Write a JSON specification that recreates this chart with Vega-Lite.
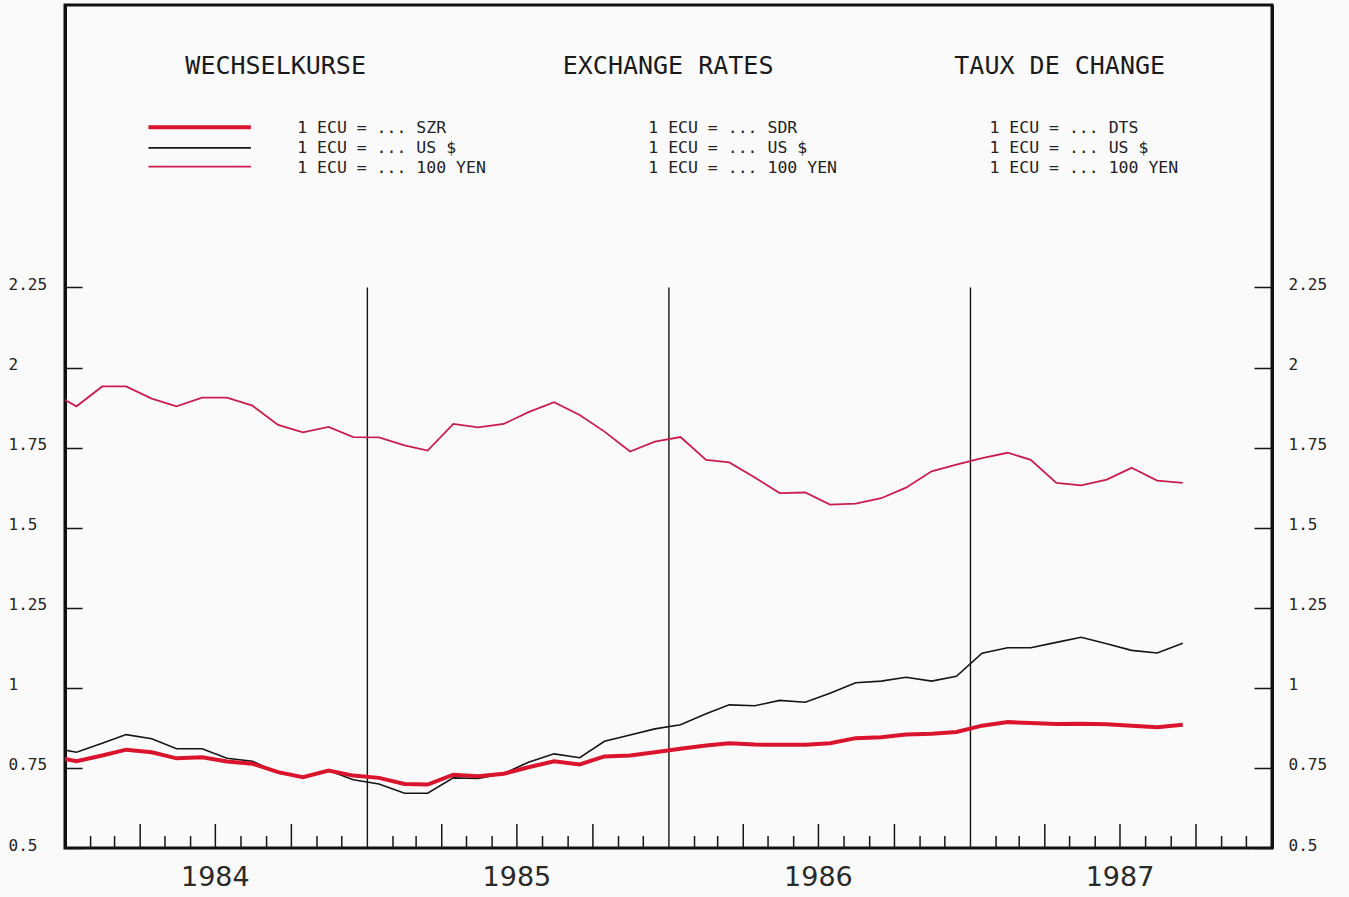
{
  "$schema": "https://vega.github.io/schema/vega-lite/v6.json",
  "width": 1207,
  "height": 843,
  "autosize": {"type": "none"},
  "padding": {"left": 65, "top": 5, "right": 77, "bottom": 49},
  "background": "#fafafa",
  "config": {"view": {"stroke": "#111111", "strokeWidth": 3}, "axis": {"grid": false}},
  "resolve": {"axis": {"y": "independent"}},
  "datasets": {
    "rates": [
      {"month": "1983-12-15T00:00:00", "SZR": 0.786, "USD": 0.814, "YEN": 1.922},
      {"month": "1984-01-15T00:00:00", "SZR": 0.771, "USD": 0.799, "YEN": 1.879},
      {"month": "1984-02-15T00:00:00", "SZR": 0.789, "USD": 0.827, "YEN": 1.941},
      {"month": "1984-03-15T00:00:00", "SZR": 0.807, "USD": 0.854, "YEN": 1.941},
      {"month": "1984-04-15T00:00:00", "SZR": 0.799, "USD": 0.841, "YEN": 1.903},
      {"month": "1984-05-15T00:00:00", "SZR": 0.780, "USD": 0.810, "YEN": 1.879},
      {"month": "1984-06-15T00:00:00", "SZR": 0.783, "USD": 0.810, "YEN": 1.906},
      {"month": "1984-07-15T00:00:00", "SZR": 0.770, "USD": 0.780, "YEN": 1.906},
      {"month": "1984-08-15T00:00:00", "SZR": 0.763, "USD": 0.771, "YEN": 1.881},
      {"month": "1984-09-15T00:00:00", "SZR": 0.737, "USD": 0.734, "YEN": 1.821},
      {"month": "1984-10-15T00:00:00", "SZR": 0.721, "USD": 0.721, "YEN": 1.798},
      {"month": "1984-11-15T00:00:00", "SZR": 0.742, "USD": 0.742, "YEN": 1.815},
      {"month": "1984-12-15T00:00:00", "SZR": 0.726, "USD": 0.713, "YEN": 1.783},
      {"month": "1985-01-15T00:00:00", "SZR": 0.719, "USD": 0.700, "YEN": 1.782},
      {"month": "1985-02-15T00:00:00", "SZR": 0.700, "USD": 0.671, "YEN": 1.757},
      {"month": "1985-03-15T00:00:00", "SZR": 0.698, "USD": 0.671, "YEN": 1.741},
      {"month": "1985-04-15T00:00:00", "SZR": 0.729, "USD": 0.719, "YEN": 1.824},
      {"month": "1985-05-15T00:00:00", "SZR": 0.724, "USD": 0.717, "YEN": 1.813},
      {"month": "1985-06-15T00:00:00", "SZR": 0.732, "USD": 0.732, "YEN": 1.824},
      {"month": "1985-07-15T00:00:00", "SZR": 0.752, "USD": 0.768, "YEN": 1.861},
      {"month": "1985-08-15T00:00:00", "SZR": 0.771, "USD": 0.794, "YEN": 1.892},
      {"month": "1985-09-15T00:00:00", "SZR": 0.761, "USD": 0.782, "YEN": 1.852},
      {"month": "1985-10-15T00:00:00", "SZR": 0.786, "USD": 0.833, "YEN": 1.800},
      {"month": "1985-11-15T00:00:00", "SZR": 0.789, "USD": 0.853, "YEN": 1.738},
      {"month": "1985-12-15T00:00:00", "SZR": 0.799, "USD": 0.872, "YEN": 1.769},
      {"month": "1986-01-15T00:00:00", "SZR": 0.810, "USD": 0.885, "YEN": 1.783},
      {"month": "1986-02-15T00:00:00", "SZR": 0.820, "USD": 0.919, "YEN": 1.712},
      {"month": "1986-03-15T00:00:00", "SZR": 0.827, "USD": 0.947, "YEN": 1.704},
      {"month": "1986-04-15T00:00:00", "SZR": 0.823, "USD": 0.944, "YEN": 1.657},
      {"month": "1986-05-15T00:00:00", "SZR": 0.822, "USD": 0.961, "YEN": 1.608},
      {"month": "1986-06-15T00:00:00", "SZR": 0.822, "USD": 0.955, "YEN": 1.610},
      {"month": "1986-07-15T00:00:00", "SZR": 0.827, "USD": 0.983, "YEN": 1.572},
      {"month": "1986-08-15T00:00:00", "SZR": 0.843, "USD": 1.016, "YEN": 1.575},
      {"month": "1986-09-15T00:00:00", "SZR": 0.846, "USD": 1.021, "YEN": 1.592},
      {"month": "1986-10-15T00:00:00", "SZR": 0.854, "USD": 1.033, "YEN": 1.625},
      {"month": "1986-11-15T00:00:00", "SZR": 0.857, "USD": 1.021, "YEN": 1.676},
      {"month": "1986-12-15T00:00:00", "SZR": 0.862, "USD": 1.036, "YEN": 1.697},
      {"month": "1987-01-15T00:00:00", "SZR": 0.882, "USD": 1.108, "YEN": 1.717},
      {"month": "1987-02-15T00:00:00", "SZR": 0.893, "USD": 1.125, "YEN": 1.734},
      {"month": "1987-03-15T00:00:00", "SZR": 0.890, "USD": 1.125, "YEN": 1.712},
      {"month": "1987-04-15T00:00:00", "SZR": 0.887, "USD": 1.142, "YEN": 1.640},
      {"month": "1987-05-15T00:00:00", "SZR": 0.888, "USD": 1.158, "YEN": 1.632},
      {"month": "1987-06-15T00:00:00", "SZR": 0.886, "USD": 1.138, "YEN": 1.650},
      {"month": "1987-07-15T00:00:00", "SZR": 0.882, "USD": 1.117, "YEN": 1.687},
      {"month": "1987-08-15T00:00:00", "SZR": 0.877, "USD": 1.109, "YEN": 1.647},
      {"month": "1987-09-15T00:00:00", "SZR": 0.885, "USD": 1.139, "YEN": 1.640}
    ],
    "titles": [
      {"t": "WECHSELKURSE", "d": "1984-09-12T00:00:00", "v": 2.94},
      {"t": "EXCHANGE RATES", "d": "1985-12-31T00:00:00", "v": 2.94},
      {"t": "TAUX DE CHANGE", "d": "1987-04-19T00:00:00", "v": 2.94}
    ],
    "legendText": [
      {"t": "1 ECU = ... SZR", "d": "1984-10-08T00:00:00", "v": 2.748},
      {"t": "1 ECU = ... US $", "d": "1984-10-08T00:00:00", "v": 2.685},
      {"t": "1 ECU = ... 100 YEN", "d": "1984-10-08T00:00:00", "v": 2.624},
      {"t": "1 ECU = ... SDR", "d": "1985-12-07T00:00:00", "v": 2.748},
      {"t": "1 ECU = ... US $", "d": "1985-12-07T00:00:00", "v": 2.685},
      {"t": "1 ECU = ... 100 YEN", "d": "1985-12-07T00:00:00", "v": 2.624},
      {"t": "1 ECU = ... DTS", "d": "1987-01-24T00:00:00", "v": 2.748},
      {"t": "1 ECU = ... US $", "d": "1987-01-24T00:00:00", "v": 2.685},
      {"t": "1 ECU = ... 100 YEN", "d": "1987-01-24T00:00:00", "v": 2.624}
    ],
    "yearLines": [
      {"d": "1985-01-01T00:00:00"},
      {"d": "1986-01-01T00:00:00"},
      {"d": "1987-01-01T00:00:00"}
    ],
    "monthTicks": [
      {"d": "1984-02-01T00:00:00"}, {"d": "1984-03-01T00:00:00"}, {"d": "1984-05-01T00:00:00"}, {"d": "1984-06-01T00:00:00"},
      {"d": "1984-08-01T00:00:00"}, {"d": "1984-09-01T00:00:00"}, {"d": "1984-11-01T00:00:00"}, {"d": "1984-12-01T00:00:00"},
      {"d": "1985-02-01T00:00:00"}, {"d": "1985-03-01T00:00:00"}, {"d": "1985-05-01T00:00:00"}, {"d": "1985-06-01T00:00:00"},
      {"d": "1985-08-01T00:00:00"}, {"d": "1985-09-01T00:00:00"}, {"d": "1985-11-01T00:00:00"}, {"d": "1985-12-01T00:00:00"},
      {"d": "1986-02-01T00:00:00"}, {"d": "1986-03-01T00:00:00"}, {"d": "1986-05-01T00:00:00"}, {"d": "1986-06-01T00:00:00"},
      {"d": "1986-08-01T00:00:00"}, {"d": "1986-09-01T00:00:00"}, {"d": "1986-11-01T00:00:00"}, {"d": "1986-12-01T00:00:00"},
      {"d": "1987-02-01T00:00:00"}, {"d": "1987-03-01T00:00:00"}, {"d": "1987-05-01T00:00:00"}, {"d": "1987-06-01T00:00:00"},
      {"d": "1987-08-01T00:00:00"}, {"d": "1987-09-01T00:00:00"}, {"d": "1987-11-01T00:00:00"}, {"d": "1987-12-01T00:00:00"}
    ],
    "quarterTicks": [
      {"d": "1984-04-01T00:00:00"}, {"d": "1984-07-01T00:00:00"}, {"d": "1984-10-01T00:00:00"},
      {"d": "1985-04-01T00:00:00"}, {"d": "1985-07-01T00:00:00"}, {"d": "1985-10-01T00:00:00"},
      {"d": "1986-04-01T00:00:00"}, {"d": "1986-07-01T00:00:00"}, {"d": "1986-10-01T00:00:00"},
      {"d": "1987-04-01T00:00:00"}, {"d": "1987-07-01T00:00:00"}, {"d": "1987-10-01T00:00:00"}
    ],
    "years": [
      {"t": "1984", "d": "1984-07-01T00:00:00"},
      {"t": "1985", "d": "1985-07-01T00:00:00"},
      {"t": "1986", "d": "1986-07-01T00:00:00"},
      {"t": "1987", "d": "1987-07-01T00:00:00"}
    ]
  },
  "layer": [
    {
      "data": {"name": "yearLines"},
      "mark": {"type": "rule", "color": "#151515", "strokeWidth": 1.4},
      "encoding": {
        "x": {
          "field": "d", "type": "temporal",
          "scale": {"domain": [{"year": 1984, "month": 1, "date": 1}, {"year": 1988, "month": 1, "date": 1}]},
          "axis": null
        },
        "y": {
          "datum": 2.25, "type": "quantitative",
          "scale": {"domain": [0.5, 3.132], "nice": false, "zero": false},
          "axis": {
            "orient": "right",
            "title": null,
            "values": [0.5, 0.75, 1, 1.25, 1.5, 1.75, 2, 2.25],
            "labelExpr": "'' + datum.value",
            "tickSize": -18,
            "tickColor": "#151515",
            "tickWidth": 1.5,
            "domainColor": "#111111",
            "domainWidth": 3,
            "labelAlign": "left",
            "labelPadding": 34,
            "labelOffset": -3,
            "labelFont": "DejaVu Sans Mono",
            "labelFontSize": 16,
            "labelColor": "#222222"
          }
        },
        "y2": {"datum": 0.5}
      }
    },
    {
      "data": {"name": "quarterTicks"},
      "mark": {"type": "rule", "color": "#151515", "strokeWidth": 1.5},
      "encoding": {
        "x": {"field": "d", "type": "temporal", "axis": null},
        "y": {"datum": 0.5, "type": "quantitative", "axis": null},
        "y2": {"datum": 0.575}
      }
    },
    {
      "data": {"name": "monthTicks"},
      "mark": {"type": "rule", "color": "#151515", "strokeWidth": 1.5},
      "encoding": {
        "x": {"field": "d", "type": "temporal", "axis": null},
        "y": {"datum": 0.5, "type": "quantitative", "axis": null},
        "y2": {"datum": 0.5375}
      }
    },
    {
      "data": {"name": "years"},
      "mark": {"type": "text", "font": "DejaVu Sans", "fontSize": 27, "align": "center", "baseline": "top", "dy": 17, "clip": false, "color": "#2a2a2a"},
      "encoding": {
        "x": {"field": "d", "type": "temporal", "axis": null},
        "y": {"datum": 0.5, "type": "quantitative", "axis": null},
        "text": {"field": "t"}
      }
    },
    {
      "data": {"name": "rates"},
      "transform": [{"fold": ["SZR", "USD", "YEN"], "as": ["series", "v"]}, {"filter": "datum.series == 'USD'"}],
      "mark": {"type": "line", "clip": true, "color": "#151515", "strokeWidth": 1.6},
      "encoding": {
        "x": {"field": "month", "type": "temporal", "axis": null},
        "y": {
          "field": "v", "type": "quantitative",
          "axis": {
            "orient": "left",
            "title": null,
            "values": [0.5, 0.75, 1, 1.25, 1.5, 1.75, 2, 2.25],
            "labelExpr": "'' + datum.value",
            "tickSize": -17,
            "tickColor": "#151515",
            "tickWidth": 1.5,
            "domainColor": "#111111",
            "domainWidth": 3,
            "labelAlign": "left",
            "labelPadding": 74,
            "labelOffset": -3,
            "labelFont": "DejaVu Sans Mono",
            "labelFontSize": 16,
            "labelColor": "#222222"
          }
        }
      }
    },
    {
      "data": {"name": "rates"},
      "transform": [{"fold": ["SZR", "USD", "YEN"], "as": ["series", "v"]}, {"filter": "datum.series == 'YEN'"}],
      "mark": {"type": "line", "clip": true, "color": "#c91d4e", "strokeWidth": 1.8},
      "encoding": {
        "x": {"field": "month", "type": "temporal", "axis": null},
        "y": {"field": "v", "type": "quantitative", "axis": null}
      }
    },
    {
      "data": {"name": "rates"},
      "transform": [{"fold": ["SZR", "USD", "YEN"], "as": ["series", "v"]}, {"filter": "datum.series == 'SZR'"}],
      "mark": {"type": "line", "clip": true, "color": "#d9142c", "strokeWidth": 4},
      "encoding": {
        "x": {"field": "month", "type": "temporal", "axis": null},
        "y": {"field": "v", "type": "quantitative", "axis": null}
      }
    },
    {
      "data": {"values": [{}]},
      "mark": {"type": "rule", "color": "#d9142c", "strokeWidth": 4},
      "encoding": {
        "x": {"datum": {"year": 1984, "month": 4, "date": 11}, "type": "temporal", "axis": null},
        "x2": {"datum": {"year": 1984, "month": 8, "date": 13}},
        "y": {"datum": 2.75, "type": "quantitative", "axis": null}
      }
    },
    {
      "data": {"values": [{}]},
      "mark": {"type": "rule", "color": "#151515", "strokeWidth": 1.6},
      "encoding": {
        "x": {"datum": {"year": 1984, "month": 4, "date": 11}, "type": "temporal", "axis": null},
        "x2": {"datum": {"year": 1984, "month": 8, "date": 13}},
        "y": {"datum": 2.686, "type": "quantitative", "axis": null}
      }
    },
    {
      "data": {"values": [{}]},
      "mark": {"type": "rule", "color": "#c91d4e", "strokeWidth": 1.8},
      "encoding": {
        "x": {"datum": {"year": 1984, "month": 4, "date": 11}, "type": "temporal", "axis": null},
        "x2": {"datum": {"year": 1984, "month": 8, "date": 13}},
        "y": {"datum": 2.6275, "type": "quantitative", "axis": null}
      }
    },
    {
      "data": {"name": "titles"},
      "mark": {"type": "text", "font": "DejaVu Sans Mono", "fontSize": 25, "align": "center", "baseline": "middle", "color": "#1a1a1a"},
      "encoding": {
        "x": {"field": "d", "type": "temporal", "axis": null},
        "y": {"field": "v", "type": "quantitative", "axis": null},
        "text": {"field": "t"}
      }
    },
    {
      "data": {"name": "legendText"},
      "mark": {"type": "text", "font": "DejaVu Sans Mono", "fontSize": 16.5, "align": "left", "baseline": "middle", "color": "#222222"},
      "encoding": {
        "x": {"field": "d", "type": "temporal", "axis": null},
        "y": {"field": "v", "type": "quantitative", "axis": null},
        "text": {"field": "t"}
      }
    }
  ]
}
